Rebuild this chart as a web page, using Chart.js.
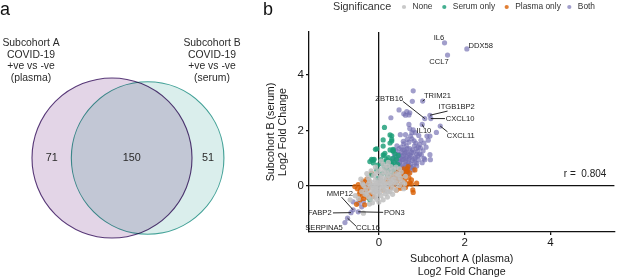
<!DOCTYPE html>
<html><head><meta charset="utf-8">
<script src="https://cdn.jsdelivr.net/npm/chart.js@4"></script>
<style>
html,body{margin:0;padding:0;background:#fff;}
#wrap{position:relative;width:617px;height:278px;overflow:hidden;background:#fff;}
#venn{position:absolute;left:0;top:0;}
#scat{position:absolute;left:250px;top:0;}
</style></head><body>
<div id="wrap"><canvas id="venn" width="250" height="278"></canvas><canvas id="scat" width="367" height="278"></canvas></div>
<script>
// ================= DATA =================
// Panel a: Venn diagram
const vennSetLabels = [
  ["Subcohort A", "COVID-19", "+ve vs -ve", "(plasma)"],
  ["Subcohort B", "COVID-19", "+ve vs -ve", "(serum)"]
];
const vennCounts = [71, 150, 51]; // A only, A and B, B only

// Panel b: scatter (x = Subcohort A plasma log2FC, y = Subcohort B serum log2FC)
const legendTitle = "Significance";
const seriesNames = ["None", "Serum only", "Plasma only", "Both"];
const xTickValues = [0, 2, 4];
const yTickValues = [0, 2, 4];
const correlationText = "r =  0.804";

const noneSig = [
  [0,0],[0.05,0.08],[-0.05,0.05],[0.10,-0.03],[-0.10,-0.05],[0.02,0.15],[-0.02,-0.15],[0.15,0.10],[-0.15,0.12],[0.08,-0.12],
  [-0.08,0.22],[0.20,0.02],[-0.20,-0.02],[0.12,0.25],[-0.12,-0.25],[0.25,0.18],[-0.25,0.30],[0.03,0.32],[-0.03,-0.30],[0.18,-0.10],
  [-0.18,-0.18],[0.30,0.05],[-0.30,-0.10],[0.07,0.40],[-0.07,0.45],[0.22,0.38],[0.28,0.28],[-0.12,0.38],[0.35,0.15],[0.32,-0.08],
  [0.40,0.10],[0.45,0.22],[0.38,0.35],[0.12,0.50],[0.18,0.48],[0.25,0.55],[0.05,0.60],[-0.02,0.52],[0.30,0.45],[0.15,0.65],
  [-0.22,0.20],[-0.35,0.02],[-0.28,-0.25],[-0.10,-0.40],[0.05,-0.35],[0.15,-0.28],[0.22,-0.22],[0.26,-0.20],[-0.05,-0.48],[-0.20,-0.45],
  [-0.25,-0.38],[-0.32,-0.30],[-0.40,-0.20],[-0.38,0.08],[-0.42,0.25],[0.00,-0.58],[-0.15,-0.60],[0.10,-0.50],[0.40,-0.15],[0.48,0.02],
  [0.55,0.15],[0.50,0.30],[0.42,0.45],[0.35,0.60],[0.20,0.72],[0.10,0.78],[-0.08,0.68],[-0.18,0.55],[-0.28,0.45],[0.60,0.08],
  [0.58,-0.10],[-0.67,-0.50],[-0.36,-0.98],[-0.55,-0.35],[-0.48,-0.45],[0.04,0.22],[-0.04,0.12],[0.12,0.05],[-0.14,0.02],[0.08,0.18],
  [0.18,0.30],[-0.06,-0.08],[0.02,-0.22],[0.26,0.10],[-0.24,0.08],[0.34,0.25],[0.46,0.40],[0.52,0.50],[0.28,0.70],[0.40,0.68],
  [-0.12,-0.12],[0.14,-0.18],[0.32,-0.30],[-0.08,-0.20],[0.22,0.85],[0.05,0.90],[0.48,0.62],[0.62,0.35],[-0.22,-0.65],[0.20,-0.40]
];
const serumOnly = [
  [0.13,2.11],[0.30,1.81],[0.30,1.62],[0.26,1.84],[0.26,1.55],[0.10,1.66],[0.30,1.68],[-0.05,1.34],[0.33,1.32],[0.33,1.27],
  [0.14,1.18],[0.10,1.12],[0.12,1.10],[0.26,1.30],[0.10,1.44],[-0.08,1.32],[-0.13,0.94],[-0.17,0.96],[-0.11,0.96],[-0.15,0.93],
  [-0.21,0.88],[-0.13,0.83],[0.18,0.95],[0.26,0.90],[0.26,0.83],[0.33,1.00],[0.41,0.96],[0.33,1.26],[-0.03,0.75],[0.21,0.55],
  [0.18,0.62],[0.14,0.68],[0.24,0.72],[0.30,0.78],[0.36,0.85],[0.40,0.70],[-0.05,0.58],[-0.17,0.40],[-0.02,0.28],[0.08,0.45],
  [0.20,0.40],[0.28,0.50],[0.35,0.60],[0.45,1.10],[0.22,1.02],[0.05,0.95],[-0.21,-0.50],[0.06,0.80],[0.38,1.15],[0.16,0.88],[0.44,0.78]
];
const plasmaOnly = [
  [-0.36,0.12],[-0.44,-0.20],[-0.33,-0.26],[-0.25,-0.08],[-0.52,-0.66],[-0.33,-0.68],[-0.44,-0.50],[-0.25,0.22],[-0.17,0.46],[-0.40,-0.03],
  [-0.37,0.18],[-0.28,0.25],[-0.50,-0.10],[-0.46,-0.30],[-0.38,-0.35],[-0.30,-0.15],[-0.20,-0.30],[-0.14,-0.38],[-0.56,-0.02],[-0.48,0.05],
  [-0.42,-0.12],[-0.30,0.05],[-0.22,0.10],[-0.35,-0.45],[-0.27,-0.40],
  [0.49,0.58],[0.67,0.53],[0.72,0.47],[0.76,0.22],[0.53,0.04],[0.37,0.32],[0.41,0.22],[0.79,-0.14],[0.41,-0.14],[0.10,-0.14],
  [0.80,-0.23],[0.67,0.07],[0.76,0.07],[0.53,0.07],[0.41,0.15],[0.30,0.28],[0.33,0.34],[0.57,0.34],[0.64,0.52],[0.84,0.58],
  [0.68,0.70],[0.41,0.58],[0.37,0.45],[0.45,0.38],[0.55,0.45],[0.62,0.40],[0.70,0.30],[0.60,0.20],[0.48,0.25],[0.26,0.15],
  [0.22,0.35],[0.35,0.05],[0.62,-0.05],[0.72,0.12],[0.88,0.10],[0.50,-0.08],[0.28,-0.05],[0.18,0.22],[0.66,0.62],[0.58,0.62]
];
const bothSig = [
  [1.53,5.16],[2.05,4.94],[1.60,4.72],[0.80,3.43],[1.02,3.06],[0.78,3.05],[1.07,2.43],[1.19,2.55],[1.21,2.43],[1.43,2.16],
  [1.01,2.22],[1.12,1.80],[1.19,1.80],[1.34,1.93],[0.47,2.74],[0.58,2.60],[0.65,2.68],[0.72,2.64],[0.70,2.56],[0.62,2.55],
  [0.28,2.46],[0.70,2.22],[0.72,2.07],[0.77,1.92],[0.80,2.02],[0.50,1.85],[0.82,1.63],[0.57,1.61],[0.95,1.50],[0.97,1.37],
  [1.19,1.13],[1.03,1.27],[0.91,1.08],[1.01,0.84],[0.88,0.72],[0.88,0.82],[0.80,0.58],[0.68,0.46],[0.99,1.12],[1.07,0.95],
  [0.40,1.05],[0.45,1.15],[0.50,1.00],[0.52,1.22],[0.55,0.95],[0.58,1.10],[0.60,1.30],[0.62,0.88],[0.65,1.05],[0.68,1.18],
  [0.70,0.95],[0.72,1.35],[0.75,1.08],[0.78,0.92],[0.80,1.20],[0.83,1.45],[0.85,1.02],[0.48,0.85],[0.42,0.78],[0.38,0.92],
  [0.35,0.70],[0.45,0.65],[0.55,0.75],[0.60,0.62],[0.66,0.72],[0.74,0.80],[0.52,1.40],[0.58,1.52],[0.64,1.45],[0.70,1.58],
  [0.77,1.70],[0.66,1.68],[0.62,1.85],[0.74,1.80],[0.86,1.55],[0.90,1.25],[0.95,1.15],[0.92,0.95],[1.05,1.00],[1.10,1.40],
  [1.20,0.95],[0.30,0.85],[0.33,1.00],[0.40,1.28],[0.47,1.35],[0.43,0.55],[0.50,0.58],[0.57,0.50],[0.62,1.00],[0.68,0.85],
  [0.80,0.70],[0.84,0.85],[0.87,1.35],[0.98,1.65],[1.05,1.55],[0.93,1.82],[0.85,1.92],[1.15,1.65],[0.60,1.18],[0.53,0.70],
  [0.46,0.98],[0.36,1.15],[0.28,0.75],[0.72,1.12],[0.78,1.30],[0.70,0.75],
  [0.38,0.60],[0.44,0.72],[0.50,0.88],[0.56,0.60],[0.63,0.78],[0.69,0.60],[0.76,0.66],[0.82,0.98],[0.58,0.95],[0.64,1.22],
  [0.54,1.08],[0.48,1.12],[0.71,1.02],[0.76,1.22],[0.66,1.35],[0.88,1.15],[0.92,1.40],[0.42,1.45],[0.35,1.30],[0.56,1.30],
  [-0.60,-0.86],[-0.65,-0.96],[-0.48,-0.93],[-0.79,-1.32],[-0.73,-1.16],[-0.60,-0.57],[-0.48,-0.62],[-0.36,-0.57],[-0.40,-0.75]
];
const labelledGenes = [
  {gene:"IL6", x:1.53, y:5.16}, {gene:"DDX58", x:2.05, y:4.94}, {gene:"CCL7", x:1.60, y:4.72},
  {gene:"TRIM21", x:1.02, y:3.06}, {gene:"ZBTB16", x:1.07, y:2.43}, {gene:"ITGB1BP2", x:1.19, y:2.55},
  {gene:"CXCL10", x:1.21, y:2.43}, {gene:"CXCL11", x:1.43, y:2.16}, {gene:"IL10", x:1.01, y:2.22},
  {gene:"MMP12", x:-0.60, y:-0.86}, {gene:"FABP2", x:-0.65, y:-0.96}, {gene:"PON3", x:-0.48, y:-0.93},
  {gene:"SERPINA5", x:-0.79, y:-1.32}, {gene:"CCL16", x:-0.73, y:-1.16}
];

// ================= LAYOUT / STYLE =================
const FONT = '"Liberation Sans", Arial, sans-serif';
const labelLayout = {
  IL6:      {tx:1.40, ty:5.32, align:'center'},
  DDX58:    {tx:2.09, ty:5.06, align:'left'},
  CCL7:     {tx:1.40, ty:4.48, align:'center'},
  TRIM21:   {tx:1.05, ty:3.24, align:'left',  end:[1.07,3.12]},
  ZBTB16:   {tx:0.565,ty:3.14, align:'right', end:[0.56,3.05]},
  ITGB1BP2: {tx:1.39, ty:2.84, align:'left',  end:[1.60,2.70]},
  CXCL10:   {tx:1.56, ty:2.43, align:'left',  end:[1.54,2.43]},
  CXCL11:   {tx:1.58, ty:1.79, align:'left',  end:[1.60,1.95]},
  IL10:     {tx:1.05, ty:1.98, align:'center',end:[1.05,2.10]},
  MMP12:    {tx:-0.91,ty:-0.29,align:'center',end:[-0.87,-0.40]},
  FABP2:    {tx:-1.10,ty:-0.97,align:'right', end:[-1.07,-0.97]},
  PON3:     {tx:0.12, ty:-0.97,align:'left',  end:[0.10,-0.95]},
  SERPINA5: {tx:-0.84,ty:-1.50,align:'right'},
  CCL16:    {tx:-0.53,ty:-1.52,align:'left',  end:[-0.53,-1.45]}
};
const seriesColors = ['rgba(192,192,192,0.85)','rgba(27,158,119,0.82)','rgba(217,95,2,0.8)','rgba(117,112,179,0.68)'];

// ================= VENN =================
const areaA = vennCounts[0] + vennCounts[1];
const areaB = vennCounts[2] + vennCounts[1];
const rA = Math.sqrt(areaA / Math.PI), rB = Math.sqrt(areaB / Math.PI);
function lens(d){
  const a = rA*rA*Math.acos((d*d + rA*rA - rB*rB)/(2*d*rA));
  const b = rB*rB*Math.acos((d*d + rB*rB - rA*rA)/(2*d*rB));
  const c = 0.5*Math.sqrt((-d+rA+rB)*(d+rA-rB)*(d-rA+rB)*(d+rA+rB));
  return a + b - c;
}
let lo = Math.abs(rA-rB)+1e-6, hi = rA+rB-1e-6;
for (let i=0;i<60;i++){ const m=(lo+hi)/2; if (lens(m) > vennCounts[1]) lo=m; else hi=m; }
const dAB = (lo+hi)/2;
const K = 9.54;           // px per unit
const cxPx = 112, cyPx = 158;
const VW = 250, VH = 278;

function radiusFor(r){ return ctx => { const s = ctx.chart.scales.x; return Math.abs(s.getPixelForValue(r) - s.getPixelForValue(0)); }; }

const vennPlugin = {
  id:'vennText',
  beforeDatasetsDraw(chart){ chart.ctx.save(); chart.ctx.globalCompositeOperation = 'multiply'; },
  afterDatasetsDraw(chart){ chart.ctx.restore(); },
  afterDraw(chart){
    const {ctx, scales:{x,y}} = chart;
    ctx.save();
    ctx.fillStyle = '#111';
    ctx.font = '18px ' + FONT; ctx.textAlign='left'; ctx.textBaseline='alphabetic';
    ctx.fillText('a', 0, 15);
    ctx.fillStyle = '#2a2a2a';
    ctx.font = '10.4px ' + FONT; ctx.textAlign='center'; ctx.textBaseline='middle';
    const lineYs = [43, 54.7, 66.3, 78];
    vennSetLabels[0].forEach((t,i)=>ctx.fillText(t, 31, lineYs[i]));
    vennSetLabels[1].forEach((t,i)=>ctx.fillText(t, 212, lineYs[i]));
    ctx.font = '10.8px ' + FONT;
    const xs = [(-rA + (dAB - rB))/2, ((dAB - rB) + rA)/2, (rA + dAB + rB)/2];
    vennCounts.forEach((c,i)=>ctx.fillText(String(c), x.getPixelForValue(xs[i]), y.getPixelForValue(0)));
    ctx.restore();
  }
};

new Chart(document.getElementById('venn'), {
  type:'scatter',
  data:{ datasets:[
    {data:[{x:0,y:0}], pointRadius:radiusFor(rA), backgroundColor:'rgb(227,213,231)', borderColor:'#5b3b7c', borderWidth:1.1},
    {data:[{x:dAB,y:0}], pointRadius:radiusFor(rB), backgroundColor:'rgb(218,238,236)', borderColor:'#46a69c', borderWidth:1.1}
  ]},
  options:{
    responsive:false, animation:false, devicePixelRatio:1, events:[],
    layout:{padding:0},
    plugins:{legend:{display:false}, tooltip:{enabled:false}},
    elements:{point:{hoverRadius:0}},
    scales:{
      x:{type:'linear', display:false, min:-cxPx/K, max:(VW-cxPx)/K},
      y:{type:'linear', display:false, min:-(VH-cyPx)/K, max:cyPx/K}
    }
  },
  plugins:[vennPlugin]
});

// ================= SCATTER =================
const toXY = arr => arr.map(p => ({x:p[0], y:p[1]}));
const scatPlugin = {
  id:'scatAnnot',
  afterDatasetsDraw(chart){
    const {ctx, scales:{x,y}} = chart;
    ctx.save();
    ctx.font = '7.6px ' + FONT;
    ctx.fillStyle = '#1a1a1a'; ctx.strokeStyle = '#111'; ctx.lineWidth = 0.9;
    labelledGenes.forEach(g => {
      const L = labelLayout[g.gene];
      if (L.end){
        ctx.beginPath();
        ctx.moveTo(x.getPixelForValue(g.x), y.getPixelForValue(g.y));
        ctx.lineTo(x.getPixelForValue(L.end[0]), y.getPixelForValue(L.end[1]));
        ctx.stroke();
      }
      ctx.textAlign = L.align; ctx.textBaseline = 'middle';
      ctx.fillText(g.gene, x.getPixelForValue(L.tx), y.getPixelForValue(L.ty));
    });
    ctx.font = '10px ' + FONT; ctx.fillStyle = '#222'; ctx.textAlign = 'right';
    ctx.fillText(correlationText, x.getPixelForValue(5.30), y.getPixelForValue(0.43));
    ctx.restore();
  },
  afterDraw(chart){
    const ctx = chart.ctx;
    ctx.save();
    ctx.fillStyle = '#111'; ctx.font = '18px ' + FONT; ctx.textAlign='left'; ctx.textBaseline='alphabetic';
    ctx.fillText('b', 13, 15);
    ctx.fillStyle = '#333'; ctx.font = '10.8px ' + FONT; ctx.textBaseline='middle';
    ctx.fillText(legendTitle, 83, 7);
    const mx = [154, 194.3, 256.7, 319.3];
    ctx.font = '8.4px ' + FONT;
    seriesNames.forEach((n,i)=>{
      ctx.beginPath(); ctx.fillStyle = seriesColors[i]; ctx.arc(mx[i], 7, 2.1, 0, Math.PI*2); ctx.fill();
      ctx.fillStyle = '#333'; ctx.fillText(n, mx[i] + 8.5, 7);
    });
    ctx.restore();
  }
};

const zeroLine = c => (c.tick && c.tick.value === 0) ? '#111' : 'rgba(0,0,0,0)';
new Chart(document.getElementById('scat'), {
  type:'scatter',
  data:{ datasets:[
    {label:seriesNames[0], data:toXY(noneSig),   backgroundColor:seriesColors[0], borderColor:seriesColors[0]},
    {label:seriesNames[1], data:toXY(serumOnly), backgroundColor:seriesColors[1], borderColor:seriesColors[1]},
    {label:seriesNames[2], data:toXY(plasmaOnly),backgroundColor:seriesColors[2], borderColor:seriesColors[2]},
    {label:seriesNames[3], data:toXY(bothSig),   backgroundColor:seriesColors[3], borderColor:seriesColors[3]}
  ]},
  options:{
    responsive:false, animation:false, devicePixelRatio:1, events:[],
    layout:{padding:{top:32, right:2, left:0, bottom:0}},
    plugins:{legend:{display:false}, tooltip:{enabled:false}},
    elements:{point:{radius:2.6, borderWidth:0, hoverRadius:2.6}},
    scales:{
      x:{type:'linear', min:-1.628, max:5.488,
        afterBuildTicks: s => { s.ticks = xTickValues.map(v=>({value:v})); },
        afterFit: s => { s.height = 46; },
        border:{display:true, color:'#111', width:1.3},
        grid:{drawOnChartArea:true, color:zeroLine, lineWidth:1.3, tickColor:'#111', tickLength:3, drawTicks:true},
        ticks:{color:'#1a1a1a', font:{family:FONT, size:11.5}, padding:1, maxRotation:0},
        title:{display:true, text:['Subcohort A (plasma)','Log2 Fold Change'], color:'#1a1a1a', font:{family:FONT, size:10.7, lineHeight:1.15}, padding:{top:0,bottom:0}}
      },
      y:{type:'linear', min:-1.658, max:5.550,
        afterBuildTicks: s => { s.ticks = yTickValues.map(v=>({value:v})); },
        afterFit: s => { s.width = 59; },
        border:{display:true, color:'#111', width:1.3},
        grid:{drawOnChartArea:true, color:zeroLine, lineWidth:1.3, tickColor:'#111', tickLength:3, drawTicks:true},
        ticks:{color:'#1a1a1a', font:{family:FONT, size:11.5}, padding:2},
        title:{display:true, text:['Subcohort B (serum)','Log2 Fold Change'], color:'#1a1a1a', font:{family:FONT, size:10.7, lineHeight:1.15}, padding:{top:15,bottom:0}}
      }
    }
  },
  plugins:[scatPlugin]
});
</script>
</body></html>
